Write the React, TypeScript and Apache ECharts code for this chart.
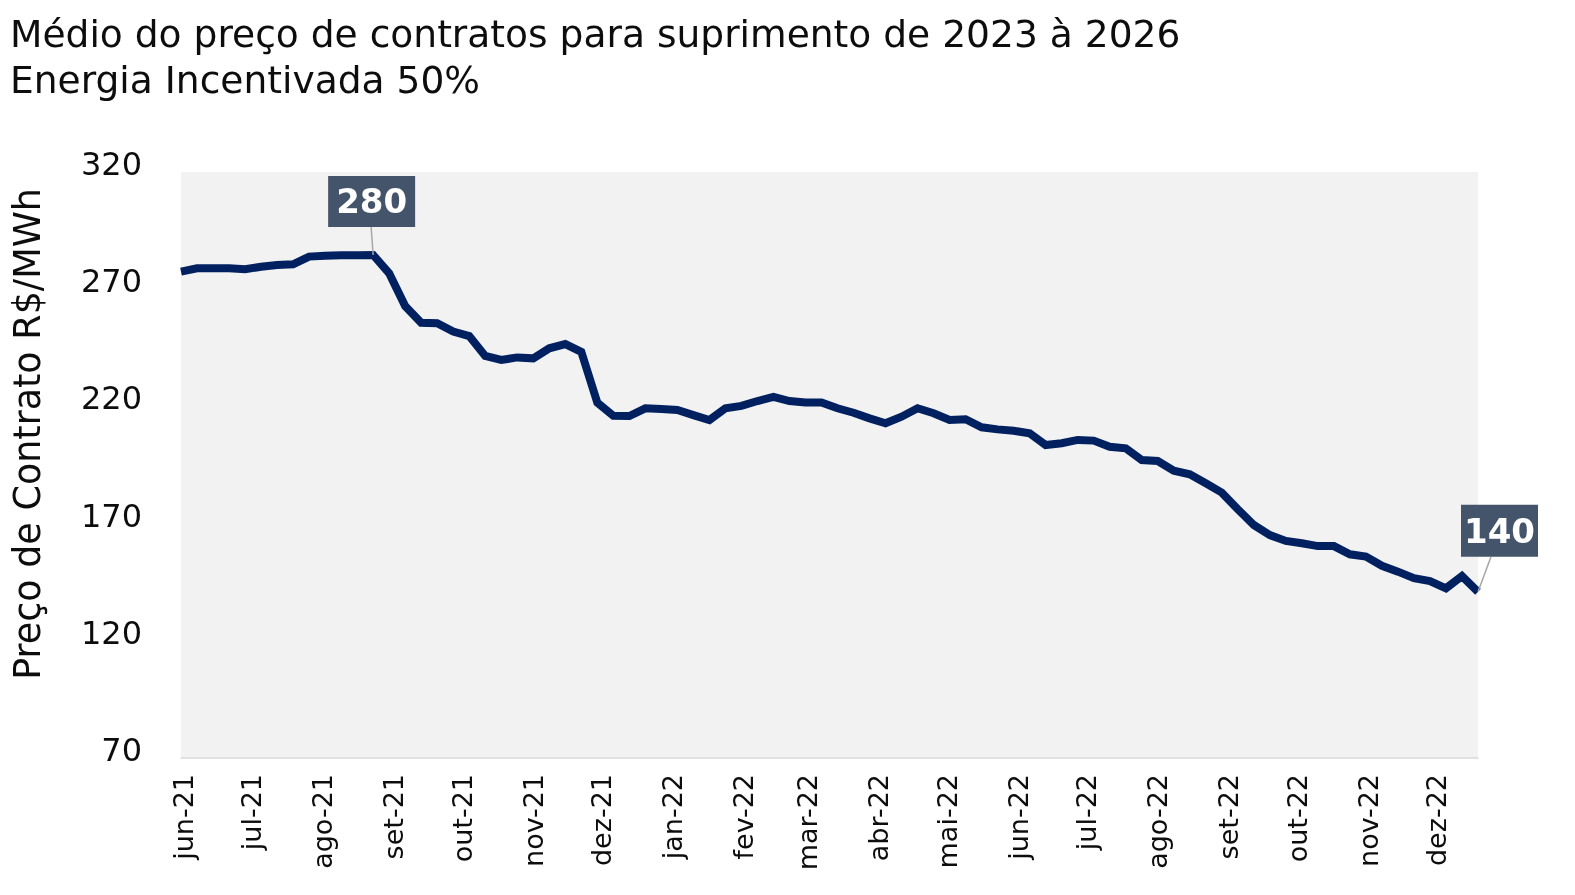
import React, { useEffect, useRef } from 'react';
import * as echarts from 'echarts';

const titleLines = ['Médio do preço de contratos para suprimento de 2023 à 2026', 'Energia Incentivada 50%'];
const yAxisTitle = 'Preço de Contrato R$/MWh';

const weekDates = [
  '2021-05-31', '2021-06-07', '2021-06-14', '2021-06-21', '2021-06-28',
  '2021-07-05', '2021-07-12', '2021-07-19', '2021-07-26',
  '2021-08-02', '2021-08-09', '2021-08-16', '2021-08-23', '2021-08-30',
  '2021-09-06', '2021-09-13', '2021-09-20', '2021-09-27',
  '2021-10-04', '2021-10-11', '2021-10-18', '2021-10-25',
  '2021-11-01', '2021-11-08', '2021-11-15', '2021-11-22', '2021-11-29',
  '2021-12-06', '2021-12-13', '2021-12-20', '2021-12-27',
  '2022-01-03', '2022-01-10', '2022-01-17', '2022-01-24', '2022-01-31',
  '2022-02-07', '2022-02-14', '2022-02-21', '2022-02-28',
  '2022-03-07', '2022-03-14', '2022-03-21', '2022-03-28',
  '2022-04-04', '2022-04-11', '2022-04-18', '2022-04-25',
  '2022-05-02', '2022-05-09', '2022-05-16', '2022-05-23', '2022-05-30',
  '2022-06-06', '2022-06-13', '2022-06-20', '2022-06-27',
  '2022-07-04', '2022-07-11', '2022-07-18', '2022-07-25',
  '2022-08-01', '2022-08-08', '2022-08-15', '2022-08-22', '2022-08-29',
  '2022-09-05', '2022-09-12', '2022-09-19', '2022-09-26',
  '2022-10-03', '2022-10-10', '2022-10-17', '2022-10-24', '2022-10-31',
  '2022-11-07', '2022-11-14', '2022-11-21', '2022-11-28',
  '2022-12-05', '2022-12-12', '2022-12-19',
];

const prices = [
  277.5, 278.9, 278.9, 278.9, 278.5,
  279.6, 280.3, 280.6, 283.9,
  284.3, 284.5, 284.5, 284.6, 276.8,
  262.8, 255.7, 255.5, 251.9,
  250.0, 241.5, 239.8, 240.9,
  240.5, 244.8, 246.6, 243.3, 221.6,
  216.0, 215.9, 219.2, 218.9,
  218.5, 216.3, 214.2, 219.2, 220.2,
  222.3, 224.1, 222.3, 221.7,
  221.7, 219.2, 217.3, 214.9,
  212.8, 215.6, 219.2, 217.1,
  214.2, 214.5, 211.1, 210.2, 209.6,
  208.5, 203.5, 204.3, 205.7,
  205.4, 202.8, 202.1, 197.1,
  196.7, 192.6, 191.0, 187.2, 183.2,
  176.1, 169.4, 165.1, 162.6,
  161.6, 160.4, 160.4, 156.9, 155.9,
  152.0, 149.5, 146.7, 145.5,
  142.4, 147.6, 140.9,
];

const monthTicks = [
  '2021-06-01', '2021-07-01', '2021-08-01', '2021-09-01', '2021-10-01', '2021-11-01', '2021-12-01',
  '2022-01-01', '2022-02-01', '2022-03-01', '2022-04-01', '2022-05-01', '2022-06-01',
  '2022-07-01', '2022-08-01', '2022-09-01', '2022-10-01', '2022-11-01', '2022-12-01',
];
const monthLabels = [
  'jun-21', 'jul-21', 'ago-21', 'set-21', 'out-21', 'nov-21', 'dez-21',
  'jan-22', 'fev-22', 'mar-22', 'abr-22', 'mai-22', 'jun-22',
  'jul-22', 'ago-22', 'set-22', 'out-22', 'nov-22', 'dez-22',
];

const yTicks = [70, 120, 170, 220, 270, 320];

const calloutIndex = [12, 81];
const calloutText = ['280', '140'];

const FONT = "'DejaVu Sans', sans-serif";
const TEXT_COLOR = '#0d0d0d';

// box offsets relative to the data point (styles, not data)
const calloutLayout = [
  { dx: -45, dy: -79, w: 87, h: 51, lx: -2, ly: -28 },
  { dx: -17, dy: -87, w: 77, h: 52, lx: 13, ly: -35 },
];

// day number (UTC based, so no DST drift)
const toDay = (s: string) => {
  const [y, m, d] = s.split('-').map(Number);
  return Math.round(Date.UTC(y, m - 1, d) / 86400000);
};

export default function App() {
  const ref = useRef<HTMLDivElement>(null);

  useEffect(() => {
    const chart = echarts.init(ref.current!, null, { renderer: 'svg' });
    const xs = weekDates.map(toDay);
    const tickDays = monthTicks.map(toDay);

    chart.setOption({
      animation: false,
      title: {
        text: titleLines.join('\n'),
        left: 5,
        top: 6,
        textStyle: {
          fontFamily: FONT,
          fontSize: 37.6,
          lineHeight: 46,
          fontWeight: 'normal',
          color: TEXT_COLOR,
        },
      },
      grid: {
        left: 181,
        right: 97,
        top: 172,
        bottom: 137,
        show: true,
        backgroundColor: '#f2f2f2',
        borderWidth: 0,
      },
      xAxis: {
        type: 'value',
        min: xs[0],
        max: xs[xs.length - 1],
        axisLine: { show: true, onZero: false, lineStyle: { color: '#d9d9d9', width: 1.5 } },
        axisTick: { show: false },
        splitLine: { show: false },
        axisLabel: {
          customValues: tickDays,
          rotate: 90,
          margin: 16,
          hideOverlap: false,
          showMinLabel: true,
          showMaxLabel: true,
          fontFamily: FONT,
          fontSize: 27,
          color: TEXT_COLOR,
          formatter: (v: number) => {
            const i = tickDays.findIndex((t) => Math.abs(t - v) < 0.5);
            return i >= 0 ? monthLabels[i] : '';
          },
        },
      },
      yAxis: {
        type: 'value',
        min: 70,
        max: 320,
        axisLine: { show: false },
        axisTick: { show: false },
        splitLine: { show: false },
        axisLabel: {
          customValues: yTicks,
          margin: 39,
          fontFamily: FONT,
          fontSize: 32,
          lineHeight: 16,
          verticalAlign: 'bottom',
          color: TEXT_COLOR,
        },
      },
      series: [
        {
          type: 'line',
          data: xs.map((t, i) => [t, prices[i]]),
          showSymbol: false,
          symbol: 'none',
          lineStyle: { color: '#002060', width: 8, join: 'miter' },
          z: 3,
        },
      ],
    });

    const graphics: any[] = [
      {
        type: 'text',
        x: 27,
        y: 434,
        rotation: Math.PI / 2,
        style: {
          text: yAxisTitle,
          fontFamily: FONT,
          fontSize: 36.5,
          fill: TEXT_COLOR,
          align: 'center',
          verticalAlign: 'middle',
          textAlign: 'center',
          textVerticalAlign: 'middle',
        },
      },
    ];

    calloutIndex.forEach((idx, k) => {
      const p = chart.convertToPixel({ seriesIndex: 0 }, [xs[idx], prices[idx]]) as number[];
      const L = calloutLayout[k];
      graphics.push({
        type: 'line',
        z: 10,
        shape: { x1: p[0] + L.lx, y1: p[1] + L.ly, x2: p[0], y2: p[1] },
        style: { stroke: '#a6a6a6', lineWidth: 1.5 },
      });
      graphics.push({
        type: 'rect',
        z: 11,
        shape: { x: p[0] + L.dx, y: p[1] + L.dy, width: L.w, height: L.h },
        style: { fill: '#44546a' },
      });
      graphics.push({
        type: 'text',
        z: 12,
        x: p[0] + L.dx + L.w / 2,
        y: p[1] + L.dy + L.h / 2,
        style: {
          text: calloutText[k],
          fontFamily: FONT,
          fontSize: 34,
          fontWeight: 'bold',
          fill: '#ffffff',
          align: 'center',
          verticalAlign: 'middle',
          textAlign: 'center',
          textVerticalAlign: 'middle',
        },
      });
    });

    chart.setOption({ graphic: graphics });

    return () => chart.dispose();
  }, []);

  return <div ref={ref} style={{ position: 'fixed', left: 0, top: 0, width: 1575, height: 895 }} />;
}
